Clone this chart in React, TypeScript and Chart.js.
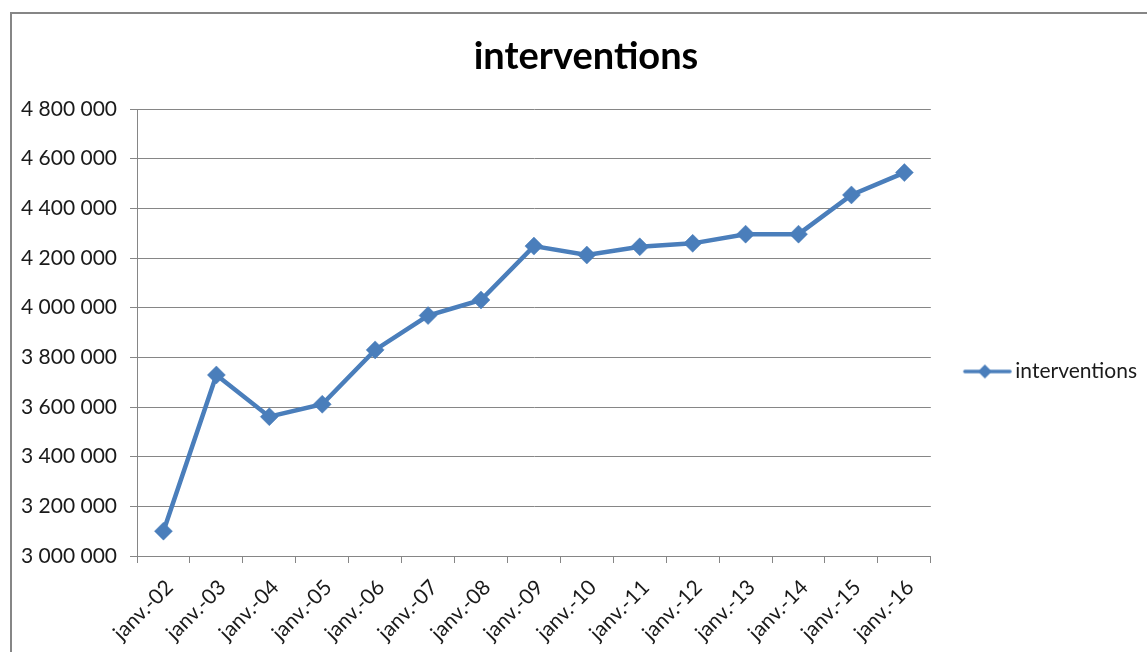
import React, { useEffect, useRef } from 'react';
import { Chart, registerables } from 'chart.js';

Chart.register(...registerables);

const TITLE = 'interventions';
const SERIES_LABEL = 'interventions';
const CATEGORIES = [
  'janv.-02', 'janv.-03', 'janv.-04', 'janv.-05', 'janv.-06',
  'janv.-07', 'janv.-08', 'janv.-09', 'janv.-10', 'janv.-11',
  'janv.-12', 'janv.-13', 'janv.-14', 'janv.-15', 'janv.-16',
];
const INTERVENTIONS = [
  3100000, 3729000, 3561000, 3611000, 3830000,
  3968000, 4031000, 4248000, 4212000, 4245000,
  4259000, 4296000, 4296000, 4454000, 4544000,
];
const Y_MIN = 3000000;
const Y_MAX = 4800000;
const Y_STEP = 200000;

const W = 1147;
const H = 652;
const BLUE = '#4A7EBB';
const GRID = '#868686';
const TEXT = '#1a1a1a';
const FONT = 'Lato, "Open Sans", sans-serif';
const TICK_SIZE = 21;
const LEGEND_SIZE = 21;
const AREA_LEFT = 137;
const AREA_RIGHT = 932;
const TITLE_CENTER = 586;

function fmt(v: number): string {
  return Math.round(v).toString().replace(/\B(?=(\d{3})+(?!\d))/g, ' ');
}

function makeLegendIcon(): HTMLCanvasElement {
  const c = document.createElement('canvas');
  c.width = 54;
  c.height = 18;
  const ctx = c.getContext('2d')!;
  ctx.strokeStyle = BLUE;
  ctx.lineWidth = 3.5;
  ctx.lineCap = 'round';
  ctx.beginPath();
  ctx.moveTo(7, 9);
  ctx.lineTo(52, 9);
  ctx.stroke();
  ctx.fillStyle = BLUE;
  ctx.beginPath();
  ctx.moveTo(27, 2);
  ctx.lineTo(34, 9);
  ctx.lineTo(27, 16);
  ctx.lineTo(20, 9);
  ctx.closePath();
  ctx.fill();
  return c;
}

const framePlugin = {
  id: 'frame',
  beforeDraw(chart: any) {
    const ctx = chart.ctx;
    ctx.save();
    ctx.fillStyle = '#ffffff';
    ctx.fillRect(0, 0, chart.width, chart.height);
    ctx.strokeStyle = GRID;
    ctx.lineWidth = 2;
    ctx.beginPath();
    ctx.moveTo(11, chart.height);
    ctx.lineTo(11, 13);
    ctx.lineTo(chart.width, 13);
    ctx.stroke();
    ctx.restore();
  },
};

const adjustPlugin = {
  id: 'adjustBoxes',
  afterLayout(chart: any) {
    const l = chart.legend;
    if (l) {
      const shift = 39;
      l.top += shift;
      l.bottom += shift;
    }
    const t = chart.titleBlock;
    if (t) {
      const d = TITLE_CENTER - (t.left + t.right) / 2;
      t.left += d;
      t.right += d;
    }
  },
};

export default function App() {
  const ref = useRef<HTMLCanvasElement | null>(null);

  useEffect(() => {
    const canvas = ref.current;
    if (!canvas) return;
    const icon = makeLegendIcon();
    const padLeft = 16;
    const legendPad = 34;
    const boxW = 40;

    const chart = new Chart(canvas, {
      type: 'line',
      data: {
        labels: CATEGORIES,
        datasets: [
          {
            label: SERIES_LABEL,
            data: INTERVENTIONS,
            borderColor: BLUE,
            backgroundColor: BLUE,
            borderWidth: 4.5,
            pointStyle: 'rectRot',
            pointRadius: 9,
            pointBorderWidth: 0.5,
            pointBackgroundColor: BLUE,
            pointBorderColor: BLUE,
            tension: 0,
          },
        ],
      },
      options: {
        responsive: false,
        animation: false,
        layout: { padding: { left: padLeft, right: 10, top: 0, bottom: 0 } },
        plugins: {
          title: {
            display: true,
            text: TITLE,
            color: '#000',
            font: { family: FONT, size: 38, weight: 'bold', lineHeight: 1.2 },
            padding: { top: 34, bottom: 29.4 },
          },
          legend: {
            display: true,
            position: 'right',
            fullSize: false,
            labels: {
              usePointStyle: true,
              pointStyleWidth: boxW,
              padding: legendPad,
              color: TEXT,
              font: { family: FONT, size: LEGEND_SIZE },
              generateLabels: (c: any) =>
                (Chart.defaults.plugins.legend.labels as any)
                  .generateLabels(c)
                  .map((it: any) => ({ ...it, pointStyle: icon })),
            },
          },
          tooltip: { enabled: false },
        },
        scales: {
          x: {
            type: 'category',
            offset: true,
            grid: {
              offset: true,
              drawOnChartArea: false,
              drawTicks: true,
              tickLength: 7,
              color: GRID,
            },
            border: { display: true, color: GRID, width: 1 },
            ticks: {
              autoSkip: false,
              minRotation: 45,
              maxRotation: 45,
              padding: 12,
              labelOffset: 6,
              color: TEXT,
              font: { family: FONT, size: TICK_SIZE },
            },
            afterFit: (s: any) => {
              s.height = 96;
            },
          },
          y: {
            min: Y_MIN,
            max: Y_MAX,
            grid: {
              color: GRID,
              drawTicks: true,
              tickLength: 7,
            },
            border: { display: true, color: GRID, width: 1 },
            ticks: {
              stepSize: Y_STEP,
              padding: 13,
              color: TEXT,
              font: { family: FONT, size: TICK_SIZE },
              callback: (v: any) => fmt(Number(v)),
            },
            afterFit: (s: any) => {
              s.width = AREA_LEFT - padLeft;
            },
          },
        },
      },
      plugins: [framePlugin, adjustPlugin],
    } as any);

    const diff = AREA_RIGHT - chart.chartArea.right;
    if (Math.abs(diff) > 0.5) {
      const pad = (chart.options.layout as any).padding;
      pad.right = Math.max(0, pad.right - diff);
      chart.update();
    }

    return () => chart.destroy();
  }, []);

  return (
    <div style={{ position: 'fixed', left: 0, top: 0, width: W, height: H, overflow: 'hidden', background: '#fff' }}>
      <canvas ref={ref} width={W} height={H} style={{ display: 'block', width: W, height: H }} />
    </div>
  );
}
